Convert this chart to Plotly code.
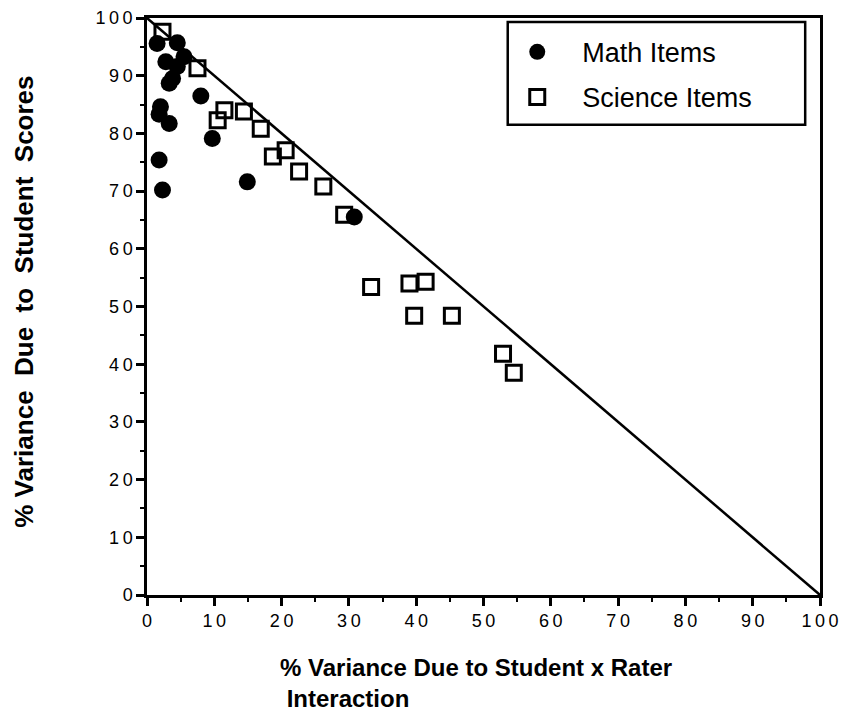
import plotly.graph_objects as go

# Math items (circles): x = % variance student x rater, y = % variance student
math_x = [1.5, 4.5, 2.8, 5.5, 4.5, 3.8, 3.3, 8.0, 2.0, 1.8, 3.3, 9.7, 1.8, 2.3, 14.9, 30.8]
math_y = [95.6, 95.7, 92.4, 93.3, 91.6, 89.5, 88.7, 86.5, 84.6, 83.3, 81.7, 79.1, 75.4, 70.2, 71.6, 65.5]

# Science items (squares)
sci_x = [2.3, 7.5, 11.5, 10.5, 14.4, 16.9, 18.7, 20.6, 22.6, 26.2, 29.3, 33.3, 39.0, 41.4, 39.7, 45.3, 52.9, 54.5]
sci_y = [97.6, 91.3, 84.0, 82.3, 83.8, 80.8, 76.0, 77.1, 73.4, 70.8, 65.9, 53.4, 54.0, 54.3, 48.4, 48.4, 41.8, 38.5]

# Reference line (sum = 100)
line_x = [0, 100]
line_y = [100, 0]

tick_vals = list(range(0, 101, 10))
tick_text = ["\u2009".join(str(v)) for v in tick_vals]

FONT = "Liberation Sans, Arial, sans-serif"

fig = go.Figure()
fig.add_trace(go.Scatter(x=line_x, y=line_y, mode="lines",
                         line=dict(color="black", width=2.5),
                         showlegend=False, hoverinfo="skip"))
fig.add_trace(go.Scatter(x=sci_x, y=sci_y, mode="markers", name="Science Items",
                         legendgroup="sci", legendrank=2,
                         marker=dict(symbol="square-open", size=15, color="black",
                                     line=dict(width=3, color="black"))))
fig.add_trace(go.Scatter(x=math_x, y=math_y, mode="markers", name="Math Items",
                         legendgroup="math", legendrank=1,
                         marker=dict(symbol="circle", size=17, color="black")))

axis_common = dict(
    range=[0, 100], tickvals=tick_vals, ticktext=tick_text, automargin=False,
    showgrid=False, zeroline=False, showline=True, linecolor="black", linewidth=2.5,
    mirror=True, ticks="outside", ticklen=8, tickwidth=2.5, tickcolor="black",
    tickfont=dict(family=FONT, size=18, color="black"),
    minor=dict(dtick=5, ticks="outside", ticklen=4, tickwidth=2, tickcolor="black"),
)

fig.update_layout(
    width=843, height=718,
    margin=dict(l=147, r=23, t=18, b=123, autoexpand=False),
    plot_bgcolor="white", paper_bgcolor="white",
    xaxis=dict(**axis_common, tickangle=0),
    yaxis=dict(**axis_common),
    showlegend=True,
    legend=dict(x=0.513, y=0.983, xanchor="left", yanchor="top",
                borderwidth=0, bgcolor="rgba(0,0,0,0)",
                font=dict(family=FONT, size=27, color="black"),
                traceorder="grouped", itemsizing="trace",
                itemwidth=80, tracegroupgap=7),
    shapes=[
        dict(type="rect", xref="paper", yref="paper",
             x0=0.536, x1=0.978, y0=0.815, y1=0.993,
             line=dict(color="black", width=2.5), fillcolor="rgba(0,0,0,0)"),
    ],
    annotations=[
        dict(text="<b>% Variance Due to Student x Rater<br> Interaction</b>",
             xref="paper", yref="paper", x=0.195, y=-0.099,
             xanchor="left", yanchor="top", align="left", showarrow=False,
             font=dict(family=FONT, size=24, color="black")),
        dict(text="<b>% Variance  Due  to  Student  Scores</b>",
             xref="paper", yref="paper", x=-0.183, y=0.508,
             xanchor="center", yanchor="middle", textangle=-90, showarrow=False,
             font=dict(family=FONT, size=26, color="black")),
    ],
)

fig.write_html("out.html", config={"displayModeBar": False},
               post_script="document.body.style.margin='0';document.body.style.overflow='hidden';")
